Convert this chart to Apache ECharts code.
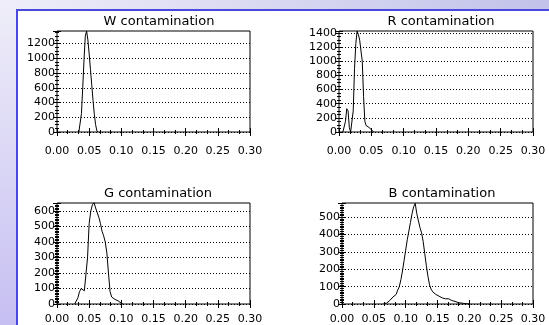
<!DOCTYPE html>
<html>
<head>
<meta charset="utf-8">
<script src="https://cdn.jsdelivr.net/npm/echarts@6/dist/echarts.min.js"></script>
<style>
  html, body { margin: 0; padding: 0; }
  #chart { width: 549px; height: 325px; }
</style>
</head>
<body>
<div id="chart"></div>
<script>
// Histogram of per-channel contamination values
const xTicks = [0.00, 0.05, 0.10, 0.15, 0.20, 0.25, 0.30];

const wBins   = [0.034, 0.036, 0.038, 0.040, 0.042, 0.044, 0.046, 0.048, 0.050, 0.052, 0.054, 0.056, 0.058, 0.060, 0.062, 0.064];
const wCounts = [0, 20, 250, 600, 980, 1300, 1370, 1250, 1060, 850, 640, 430, 240, 100, 15, 0];

const rBins   = [0.006, 0.008, 0.010, 0.012, 0.014, 0.016, 0.018, 0.020, 0.022, 0.024, 0.026, 0.028, 0.030, 0.032, 0.034, 0.036, 0.038, 0.040, 0.042, 0.044, 0.046, 0.048, 0.050, 0.052, 0.054];
const rCounts = [0, 0, 150, 330, 300, 60, 0, 0, 300, 900, 1250, 1430, 1380, 1300, 1280, 1000, 500, 150, 90, 80, 70, 50, 30, 10, 0];

const gBins   = [0.0275, 0.030, 0.0325, 0.035, 0.0375, 0.040, 0.0425, 0.045, 0.0475, 0.050, 0.0525, 0.055, 0.0575, 0.060, 0.0625, 0.065, 0.0675, 0.070, 0.0725, 0.075, 0.0775, 0.080, 0.0825, 0.085, 0.0875, 0.090, 0.0925, 0.095, 0.0975, 0.100, 0.1025];
const gCounts = [0, 5, 40, 80, 100, 90, 85, 90, 300, 520, 600, 640, 655, 620, 630, 560, 520, 470, 440, 400, 330, 200, 80, 45, 35, 30, 25, 20, 10, 5, 0];

const bBins   = [0.065, 0.0675, 0.070, 0.0725, 0.075, 0.0775, 0.080, 0.0825, 0.085, 0.0875, 0.090, 0.0925, 0.095, 0.0975, 0.100, 0.1025, 0.105, 0.1075, 0.110, 0.1125, 0.115, 0.1175, 0.120, 0.1225, 0.125, 0.1275, 0.130, 0.1325, 0.135, 0.1375, 0.140, 0.1425, 0.145, 0.1475, 0.150, 0.1525, 0.155, 0.1575, 0.160, 0.1625, 0.165, 0.1675, 0.170, 0.1725, 0.175, 0.1775, 0.180, 0.1825, 0.185, 0.190, 0.195, 0.200];
const bCounts = [0, 0, 5, 10, 20, 30, 40, 45, 55, 80, 100, 140, 190, 250, 310, 370, 420, 470, 520, 560, 580, 520, 530, 440, 410, 360, 290, 220, 160, 110, 85, 70, 60, 55, 50, 45, 40, 35, 35, 30, 35, 30, 25, 20, 15, 15, 10, 8, 6, 4, 2, 0];

const panels = [
  { title: 'W contamination', bins: wBins, counts: wCounts, yMax: 1370, yStep: 200, yMinor: 4,
    box: { left: 57, top: 31, width: 193, height: 101 }, titleX: 154, titleY: 10, xMargin: 14 },
  { title: 'R contamination', bins: rBins, counts: rCounts, yMax: 1430, yStep: 200, yMinor: 4,
    box: { left: 339, top: 31, width: 194, height: 101 }, titleX: 436, titleY: 10, xMargin: 14 },
  { title: 'G contamination', bins: gBins, counts: gCounts, yMax: 652, yStep: 100, yMinor: 10,
    box: { left: 57, top: 203, width: 193, height: 102 }, titleX: 153, titleY: 182, xMargin: 10 },
  { title: 'B contamination', bins: bBins, counts: bCounts, yMax: 582, yStep: 100, yMinor: 10,
    box: { left: 342, top: 203, width: 191, height: 102 }, titleX: 437, titleY: 182, xMargin: 10 }
];

const FONT = 'DejaVu Sans';
const chart = echarts.init(document.getElementById('chart'), null, { renderer: 'canvas' });

const grid = [], xAxis = [], yAxis = [], series = [], title = [];

panels.forEach((p, i) => {
  grid.push(Object.assign({ show: true, borderColor: '#000', borderWidth: 1, backgroundColor: 'transparent' }, p.box));

  const xBase = {
    gridIndex: i, type: 'value', min: xTicks[0], max: xTicks[xTicks.length - 1], interval: 0.05,
    axisLine: { show: false },
    splitLine: { show: false },
    axisTick: { show: true, inside: true, length: 4, lineStyle: { color: '#000' } },
    minorTick: { show: true, splitNumber: 3, length: 2, lineStyle: { color: '#000' } }
  };
  xAxis.push(Object.assign({}, xBase, {
    position: 'bottom',
    axisLabel: { show: true, color: '#000', fontFamily: FONT, fontSize: 11, margin: p.xMargin,
      formatter: v => v.toFixed(2) }
  }));
  xAxis.push(Object.assign({}, xBase, { position: 'top', axisLabel: { show: false } }));

  const yBase = {
    gridIndex: i, type: 'value', min: 0, max: p.yMax, interval: p.yStep,
    axisLine: { show: false },
    axisTick: { show: true, inside: true, length: 4, lineStyle: { color: '#000' } },
    minorTick: { show: true, splitNumber: p.yMinor, length: 2, lineStyle: { color: '#000' } }
  };
  yAxis.push(Object.assign({}, yBase, {
    position: 'left',
    splitLine: { show: true, showMaxLine: false, lineStyle: { color: '#000', width: 1, type: [1, 2] } },
    axisLabel: { show: true, color: '#000', fontFamily: FONT, fontSize: 11, margin: 2,
      showMaxLabel: false, formatter: v => String(v) }
  }));
  yAxis.push(Object.assign({}, yBase, { position: 'right', splitLine: { show: false }, axisLabel: { show: false } }));

  series.push({
    type: 'line', xAxisIndex: i * 2, yAxisIndex: i * 2,
    data: p.bins.map((x, k) => [x, p.counts[k]]),
    showSymbol: false, symbol: 'none', silent: true, animation: false,
    lineStyle: { color: '#000', width: 1 }
  });

  title.push({
    text: p.title, left: p.titleX, top: p.titleY, textAlign: 'center',
    textStyle: { color: '#000', fontFamily: FONT, fontSize: 13, fontWeight: 'normal' }
  });
});

// Slide-style backdrop: lavender frame, blue rule lines, white panel
const graphic = [
  { type: 'rect', z: -10, silent: true, shape: { x: 0, y: 0, width: 549, height: 325 },
    style: { fill: new echarts.graphic.LinearGradient(0, 0, 1, 1, [
      { offset: 0, color: '#f1f0fa' }, { offset: 0.5, color: '#d6d4f1' }, { offset: 1, color: '#c4bdf0' }]) } },
  { type: 'rect', z: -10, silent: true, shape: { x: 0, y: 0, width: 549, height: 10 },
    style: { fill: new echarts.graphic.LinearGradient(0, 0, 1, 0, [
      { offset: 0, color: '#efeef9' }, { offset: 1, color: '#c2c2ea' }]) } },
  { type: 'rect', z: -10, silent: true, shape: { x: 0, y: 0, width: 16, height: 325 },
    style: { fill: new echarts.graphic.LinearGradient(0, 0, 0, 1, [
      { offset: 0, color: '#efeef9' }, { offset: 1, color: '#c6bff2' }]) } },
  { type: 'rect', z: -9, silent: true, shape: { x: 16, y: 9, width: 533, height: 2 }, style: { fill: '#4848dc' } },
  { type: 'rect', z: -9, silent: true, shape: { x: 16, y: 9, width: 2, height: 316 }, style: { fill: '#4848dc' } },
  { type: 'rect', z: -9, silent: true, shape: { x: 18, y: 11, width: 531, height: 314 }, style: { fill: '#ffffff' } }
];

chart.setOption({
  animation: false,
  backgroundColor: '#ffffff',
  graphic, title, grid, xAxis, yAxis, series
});
</script>
</body>
</html>
